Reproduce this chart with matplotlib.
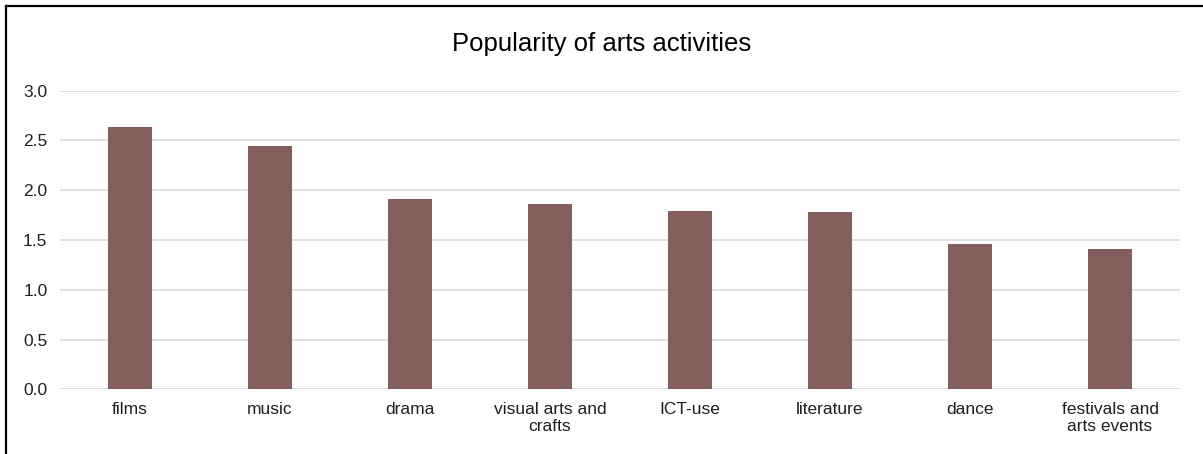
import matplotlib
matplotlib.use("Agg")
import matplotlib.pyplot as plt
from matplotlib.lines import Line2D
import numpy as np

plt.rcParams["font.family"] = ["Liberation Sans", "DejaVu Sans"]

categories = ["films", "music", "drama", "visual arts and\ncrafts", "ICT-use",
              "literature", "dance", "festivals and\narts events"]
values = [2.63, 2.44, 1.91, 1.86, 1.79, 1.78, 1.46, 1.41]
yticks = [0.0, 0.5, 1.0, 1.5, 2.0, 2.5, 3.0]

BAR_COLOR = "#845E5C"
GRID_COLOR = "#D9D9D9"
TEXT_COLOR = "#1f1f1f"

fig = plt.figure(figsize=(12.03, 4.54), dpi=100)
ax = fig.add_axes([60 / 1203, 1 - 389.3 / 454, 1120 / 1203, (389.3 - 90.5) / 454])

x = np.arange(len(categories))
ax.bar(x, values, width=0.315, color=BAR_COLOR, zorder=3)

ax.set_xlim(-0.5, len(categories) - 0.5)
ax.set_ylim(0, 3.0)
ax.set_yticks(yticks)
ax.set_yticklabels([f"{v:.1f}" for v in yticks])
ax.set_xticks(x)
ax.set_xticklabels(categories, linespacing=1.15)
ax.tick_params(axis="both", length=0, labelsize=12.5, colors=TEXT_COLOR)
ax.tick_params(axis="y", pad=9)
ax.tick_params(axis="x", pad=9)
for lab in ax.get_xticklabels():
    lab.set_va("top")
    lab.set_ha("center")
    lab.set_multialignment("center")

ax.grid(axis="y", color=GRID_COLOR, lw=1.2, zorder=0)
for s in ax.spines.values():
    s.set_visible(False)

fig.text(0.5, 1 - 44 / 454, "Popularity of arts activities", ha="center",
         va="center", fontsize=18.5, color="black")

# chart area border (only left and top edges visible)
fig.add_artist(Line2D([6 / 1203, 6 / 1203], [0, 1 - 6 / 454], color="black",
                      lw=1.6, transform=fig.transFigure))
fig.add_artist(Line2D([6 / 1203, 1], [1 - 6 / 454, 1 - 6 / 454], color="black",
                      lw=1.6, transform=fig.transFigure))

fig.savefig("out.png", dpi=100)
